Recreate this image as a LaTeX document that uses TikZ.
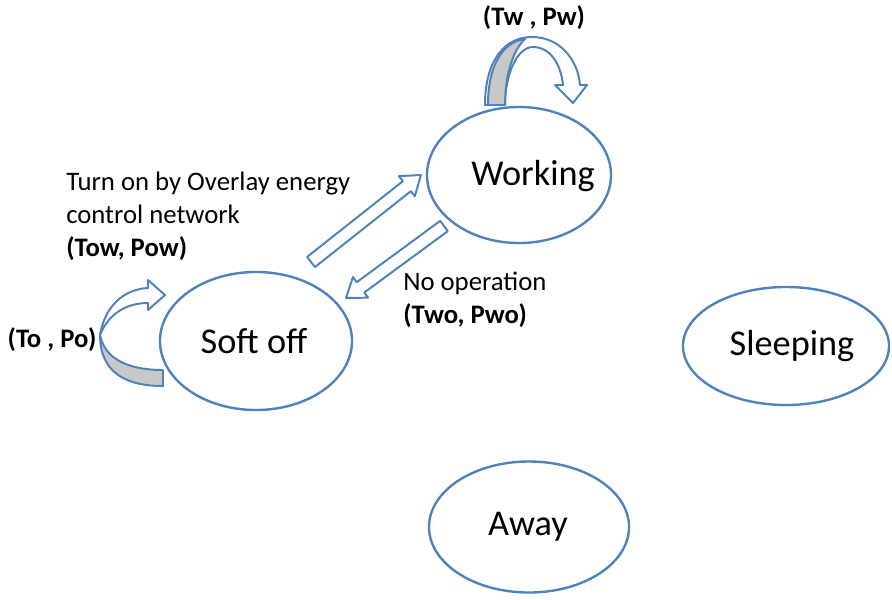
\documentclass[tikz,border=0pt]{standalone}
\usepackage{fontspec}
\setmainfont{Carlito}
\usetikzlibrary{calc,shapes.geometric}
\definecolor{stateblue}{RGB}{79,129,189}
\definecolor{loopgray}{RGB}{200,200,200}
\tikzset{
  state/.style={ellipse, draw=stateblue, line width=1.7pt, fill=white, inner sep=0pt},
  statetext/.style={inner sep=0pt, font=\fontsize{25.8}{30}\selectfont},
  note/.style={inner sep=0pt, align=left, font=\fontsize{19}{23.5}\selectfont},
  pair/.style={inner sep=0pt, font=\bfseries\fontsize{19}{23}\selectfont},
  band/.style={draw=stateblue, line width=1.4pt, fill=white, line join=round},
}
\def\blockarrow(#1)(#2){
  \path ($(#2)!0.45cm!(#1)$) coordinate (hb);
  \draw[band] ($(#1)!0.16cm!90:(#2)$) -- ($(hb)!0.16cm!90:(#2)$) -- ($(hb)!0.32cm!90:(#2)$) -- (#2)
    -- ($(hb)!0.32cm!-90:(#2)$) -- ($(hb)!0.16cm!-90:(#2)$) -- ($(#1)!0.16cm!-90:(#2)$) -- cycle;
}

\begin{document}
\begin{tikzpicture}[x=0.025cm, y=-0.025cm]
			%%%%% START %%%%%
			\useasboundingbox (0,0) rectangle (892,599);
			
			\node[state, minimum width=4.6cm, minimum height=3.4cm] (work) at (519,175) {};
			\node[statetext] (worklbl) at (533,176) {Working};
			\node[state, minimum width=4.8cm, minimum height=3.45cm] (soft) at (256,341) {};
			\node[statetext] (softlbl) at (254,341) {Soft off};
			\node[state, minimum width=5.15cm, minimum height=2.95cm] (sleep) at (786,346) {};
			\node[statetext] (sleeplbl) at (792,346) {Sleeping};
			\node[state, minimum width=5cm, minimum height=3.275cm] (away) at (529,527) {};
			\node[statetext] (awaylbl) at (528,527) {Away};
			
			% loop on Working
			\draw[band] (485,105) .. controls (485,60) and (505,37) .. (532,37) .. controls (560,37) and (578,60) .. (580,85)
				-- (587,85) -- (573,103) -- (555,85) -- (563,85) .. controls (561,64) and (550,47) .. (533,47)
				.. controls (517,47) and (505,75) .. (505,105) -- cycle;
			\draw[band, fill=loopgray] (488,105) .. controls (488,62) and (505,41) .. (525,39) .. controls (513,50) and (505,75) .. (505,105) -- cycle;
			
			% loop on Soft off
			\draw[band] (100,335) .. controls (105,305) and (125,289) .. (148,288) -- (148,280) -- (165,295) -- (148,310) -- (148,303)
				.. controls (125,303) and (108,315) .. (100,335) -- cycle;
			\draw[band, fill=loopgray] (100,335) .. controls (105,360) and (130,370) .. (163,370) -- (163,386)
				.. controls (125,386) and (100,372) .. (100,335) -- cycle;
			
			% Soft off <-> Working
			\coordinate (upT) at (311,262);
			\coordinate (upH) at (421,175);
			\coordinate (dnT) at (444,226);
			\coordinate (dnH) at (346,298);
			\blockarrow(upT)(upH)
			\blockarrow(dnT)(dnH)
			
			\node[pair] (twpw) at (534,18) {(Tw , Pw)};
			\node[pair] (topo) at (52,340) {(To , Po)};
			\node[note, anchor=north west] (turnon) at (66,172) {Turn on by Overlay energy\\control network\\\textbf{(Tow, Pow)}};
			\node[note, anchor=north west] (noop) at (403,272) {No operation\\\textbf{(Two, Pwo)}};
			
			%%%%% END %%%%%
\end{tikzpicture}
\end{document}
